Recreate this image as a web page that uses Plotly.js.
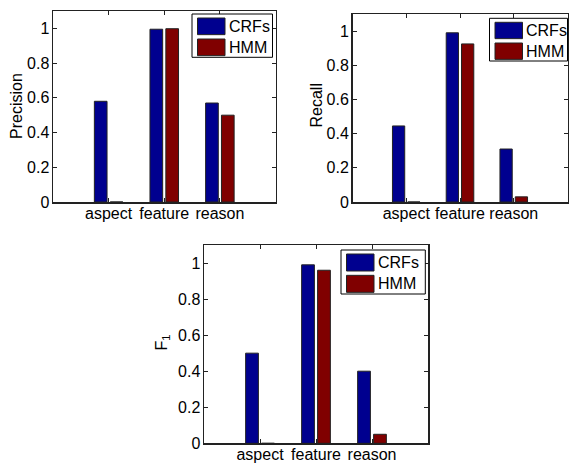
<!DOCTYPE html>
<html>
<head>
<meta charset="utf-8">
<script src="https://cdn.plot.ly/plotly-3.0.1.min.js"></script>
<style>html,body{margin:0;padding:0;background:#fff;}#chart{width:569px;height:463px;}</style>
</head>
<body>
<div id="chart"></div>
<script>
const categories = ['aspect', 'feature', 'reason'];
const seriesNames = ['CRFs', 'HMM'];
const precisionCRFs = [0.58, 0.995, 0.57];
const precisionHMM = [0, 0.998, 0.50];
const recallCRFs = [0.445, 0.99, 0.31];
const recallHMM = [0, 0.925, 0.03];
const f1CRFs = [0.50, 0.99, 0.40];
const f1HMM = [0, 0.96, 0.05];
const yTickVals = [0, 0.2, 0.4, 0.6, 0.8, 1];
const yTickText = ['0', '0.2', '0.4', '0.6', '0.8', '1'];
const yTitles = ['Precision', 'Recall', 'F<sub>1</sub>'];

const W = 569, H = 463;
const px = x => x / W;
const py = y => 1 - y / H;
const FONT = 'Liberation Sans, Arial, Helvetica, sans-serif';
const colors = ['rgb(0,0,143)', 'rgb(128,0,0)'];

const panels = [
  {crf: precisionCRFs, hmm: precisionHMM, x: [53, 275.5], y: [11, 202], leg: [192, 272.5, 14, 57.3], title: [16.5, 106.5]},
  {crf: recallCRFs, hmm: recallHMM, x: [352.5, 567.5], y: [14, 202], leg: [489.5, 567.5, 18.3, 61], title: [315.5, 106]},
  {crf: f1CRFs, hmm: f1HMM, x: [204, 428], y: [245, 443.3], leg: [341, 425.3, 250, 294], title: [161.5, 343]}
];

const traces = [];
const layout = {
  width: W, height: H,
  margin: {l: 0, r: 0, t: 0, b: 0},
  paper_bgcolor: '#fff', plot_bgcolor: '#fff',
  showlegend: false,
  barmode: 'group',
  bargap: 0.43,
  bargroupgap: 0.2,
  font: {family: FONT, color: '#000'},
  shapes: [], annotations: []
};

panels.forEach((p, i) => {
  const s = i === 0 ? '' : String(i + 1);
  [p.crf, p.hmm].forEach((vals, k) => {
    traces.push({
      type: 'bar', x: categories, y: vals, name: seriesNames[k],
      xaxis: 'x' + s, yaxis: 'y' + s,
      marker: {color: colors[k], line: {color: '#222', width: 1}},
      hoverinfo: 'x+y+name'
    });
  });
  layout['xaxis' + s] = {
    domain: [px(p.x[0]), px(p.x[1])], anchor: 'y' + s,
    type: 'category', range: [-1, 3], fixedrange: true,
    showline: true, linecolor: '#222', linewidth: 1.5, mirror: 'ticks',
    ticks: 'inside', ticklen: 4, tickcolor: '#222', tickwidth: 1,
    ticklabelstandoff: -4,
    showgrid: false, zeroline: false,
    tickfont: {family: FONT, size: 16, color: '#000'}
  };
  layout['yaxis' + s] = {
    domain: [py(p.y[1]), py(p.y[0])], anchor: 'x' + s,
    range: [0, 1.1], fixedrange: true,
    tickvals: yTickVals, ticktext: yTickText,
    showline: true, linecolor: '#222', linewidth: 1.5, mirror: 'ticks',
    ticks: 'inside', ticklen: 4, tickcolor: '#222', tickwidth: 1,
    ticklabelstandoff: -1,
    showgrid: false, zeroline: false,
    tickfont: {family: FONT, size: 16, color: '#000'}
  };
  layout.annotations.push({
    xref: 'paper', yref: 'paper', x: px(p.title[0]), y: py(p.title[1]),
    xanchor: 'center', yanchor: 'middle', showarrow: false, textangle: -90,
    text: yTitles[i], font: {family: FONT, size: 16, color: '#000'}
  });
  const [l, r, t, b] = p.leg;
  layout.shapes.push({
    type: 'rect', xref: 'paper', yref: 'paper',
    x0: px(l), x1: px(r), y0: py(b), y1: py(t),
    line: {color: '#000', width: 1}, fillcolor: '#fff', layer: 'above'
  });
  const rowH = (b - t) / 2;
  seriesNames.forEach((name, k) => {
    const y0 = t + 4 + k * rowH * 0.97;
    const y1 = y0 + rowH - 5;
    layout.shapes.push({
      type: 'rect', xref: 'paper', yref: 'paper',
      x0: px(l + 5.5), x1: px(l + 33), y0: py(y1), y1: py(y0),
      line: {color: '#222', width: 1}, fillcolor: colors[k], layer: 'above'
    });
    layout.annotations.push({
      xref: 'paper', yref: 'paper', x: px(l + 34.5), y: py((y0 + y1) / 2),
      xanchor: 'left', yanchor: 'middle', showarrow: false,
      text: name, font: {family: FONT, size: 16, color: '#000'}
    });
  });
});

Plotly.newPlot('chart', traces, layout, {displayModeBar: false, staticPlot: true});
</script>
</body>
</html>
